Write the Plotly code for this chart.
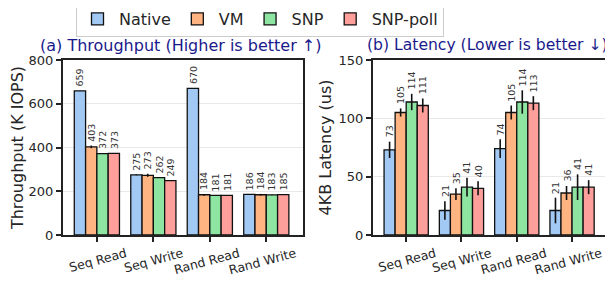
import plotly.graph_objects as go

categories = ["Seq Read", "Seq Write", "Rand Read", "Rand Write"]
series = ["Native", "VM", "SNP", "SNP-poll"]
colors = ["#a1c9f4", "#ffb482", "#8de5a1", "#ff9f9b"]

tput = {
    "Native":   [659, 275, 670, 186],
    "VM":       [403, 273, 184, 184],
    "SNP":      [372, 262, 181, 183],
    "SNP-poll": [373, 249, 181, 185],
}
tput_err = {
    "Native":   [1, 2, 1, 1],
    "VM":       [6, 7, 4, 4],
    "SNP":      [1, 1, 1, 1],
    "SNP-poll": [1, 1, 1, 1],
}
lat = {
    "Native":   [73, 21, 74, 21],
    "VM":       [105, 35, 105, 36],
    "SNP":      [114, 41, 114, 41],
    "SNP-poll": [111, 40, 113, 41],
}
lat_err = {
    "Native":   [7, 8, 8, 11],
    "VM":       [3.5, 5, 6, 6],
    "SNP":      [7, 8, 10, 11],
    "SNP-poll": [6, 6, 6, 6],
}

W = 0.2
font = "DejaVu Sans"
fig = go.Figure()
annotations = []

# page body has an 8px margin; lay out in page pixels and convert
OFF = 8
FW, FH = 613 - OFF, 281 - OFF
TOP, BOT = 60 - OFF, 235 - OFF
PH = BOT - TOP
def py(px):
    return (BOT - (px - OFF)) / PH
def dx(px):
    return (px - OFF) / FW

def add_panel(data, err, xa, ya, showlegend):
    for j, s in enumerate(series):
        xs = [i + (j - 1.5) * W for i in range(len(categories))]
        fig.add_trace(go.Bar(
            x=xs, y=data[s], width=W, name=s, legendgroup=s,
            showlegend=showlegend, xaxis=xa, yaxis=ya,
            marker=dict(color=colors[j], line=dict(color="#111111", width=1.3)),
            error_y=dict(type="data", array=err[s], visible=True,
                         color="#111111", thickness=1.6, width=0),
        ))
        for x, v, e in zip(xs, data[s], err[s]):
            annotations.append(dict(
                x=x, y=v + e, xref=xa, yref=ya, text=str(v), showarrow=False,
                textangle=-90, yanchor="bottom", xanchor="center", yshift=2,
                font=dict(family=font, size=9.5, color="#333333"),
            ))

add_panel(tput, tput_err, "x", "y", True)
add_panel(lat, lat_err, "x2", "y2", False)

axis_common = dict(
    showline=True, linewidth=2, linecolor="#222222", mirror=True,
    ticks="outside", ticklen=5, tickwidth=2, tickcolor="#222222",
    tickfont=dict(family=font, size=13, color="#262626"),
    zeroline=False,
)
xcommon = dict(axis_common, tickvals=list(range(len(categories))), ticktext=categories,
               range=[-0.6, 3.65], tickangle=-15, showgrid=False, ticklabelshift=29,
               ticklabelstandoff=0, tickfont=dict(family=font, size=12.5, color="#262626"))

title_font = dict(family=font, size=16, color="#262626")

fig.update_layout(
    width=FW, height=FH,
    margin=dict(l=0, r=0, t=TOP, b=FH - BOT, autoexpand=False),
    paper_bgcolor="white", plot_bgcolor="white",
    barmode="overlay",
    font=dict(family=font, color="#262626"),
    xaxis=dict(xcommon, domain=[dx(63), dx(303)], anchor="y"),
    xaxis2=dict(xcommon, domain=[dx(373), dx(608)], anchor="y2"),
    yaxis=dict(axis_common, range=[0, 800], tickvals=[0, 200, 400, 600, 800],
               showgrid=True, gridcolor="#e8e8e8", gridwidth=1, anchor="x",
               title=dict(text="Throughput (K IOPS)", font=title_font, standoff=3)),
    yaxis2=dict(axis_common, range=[0, 150], tickvals=[0, 50, 100, 150],
                showgrid=True, gridcolor="#e8e8e8", gridwidth=1, anchor="x2",
                title=dict(text="4KB Latency (us)", font=title_font, standoff=3)),
    legend=dict(orientation="h", x=dx(260), xanchor="center", y=py(1), yanchor="top",
                bordercolor="#cccccc", borderwidth=1,
                font=dict(family=font, size=16, color="#262626"),
                itemwidth=33, tracegroupgap=0),
    annotations=annotations + [
        dict(text="(a) Throughput (Higher is better \u2191)", x=dx(181), y=py(45),
             xref="paper", yref="paper", showarrow=False, xanchor="center", yanchor="middle",
             font=dict(family=font, size=16, color="#1a1a8c")),
        dict(text="(b) Latency (Lower is better \u2193)", x=dx(487), y=py(45),
             xref="paper", yref="paper", showarrow=False, xanchor="center", yanchor="middle",
             font=dict(family=font, size=15.6, color="#1a1a8c")),
    ],
)

fig.write_html("out.html")
